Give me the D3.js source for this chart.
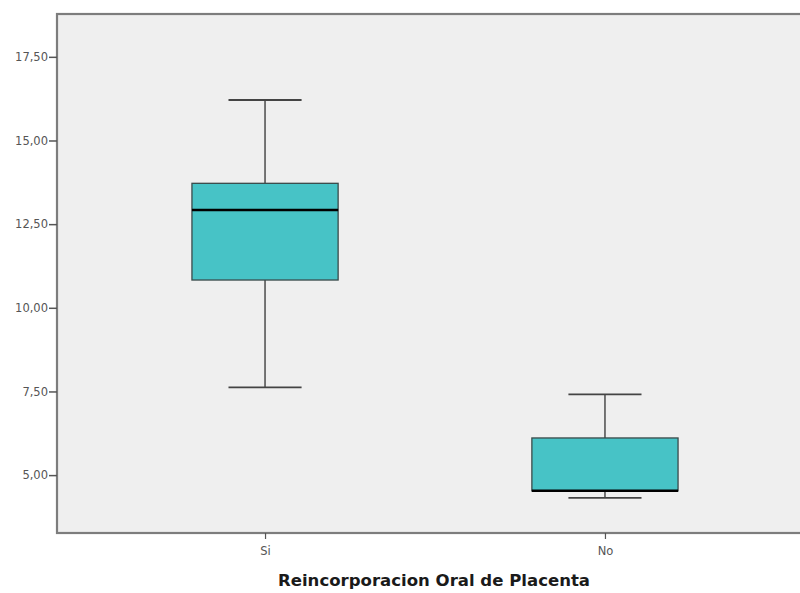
<!DOCTYPE html>
<html><head><meta charset="utf-8">
<script src="https://cdn.jsdelivr.net/npm/d3@7"></script>
<style>body{margin:0;background:#fff}</style>
</head><body>
<svg id="c" width="800" height="593"></svg>
<script>
const categories = ["Si", "No"];
const whiskerLow = [7.62, 4.32];
const q1 = [10.83, 4.53];
const median = [12.92, 4.53];
const q3 = [13.72, 6.11];
const whiskerHigh = [16.21, 7.41];
const yTicks = [5, 7.5, 10, 12.5, 15, 17.5];
const xTitle = "Reincorporacion Oral de Placenta";

const svg = d3.select("#c");
const L = 57, R = 813, T = 14, B = 533;
const y = d3.scaleLinear().domain([3.27, 18.78]).range([B, T]);
const x = d3.scalePoint().domain(categories).range([L, R]).padding(0.612);
const step = x.step();
const boxW = step * 0.43, capW = boxW * 0.5;
const FONT = "'DejaVu Sans', Verdana, sans-serif";

svg.append("rect").attr("x", L).attr("y", T).attr("width", R - L).attr("height", B - T)
  .attr("fill", "#efefef").attr("stroke", "#7d7d7d").attr("stroke-width", 2.2);

const fmt = v => d3.format(".2f")(v).replace(".", ",");
const ya = svg.append("g").attr("transform", `translate(${L},0)`)
  .call(d3.axisLeft(y).tickValues(yTicks).tickFormat(fmt).tickSize(8).tickPadding(1));
ya.select(".domain").remove();
ya.selectAll(".tick line").attr("stroke", "#555").attr("stroke-width", 1.5);
ya.selectAll(".tick text").attr("fill", "#555").style("font-family", FONT).style("font-size", "11.5px");

const xa = svg.append("g").attr("transform", `translate(0,${B})`)
  .call(d3.axisBottom(x).tickSize(6).tickPadding(8));
xa.select(".domain").remove();
xa.selectAll(".tick line").attr("stroke", "#555").attr("stroke-width", 1.2);
xa.selectAll(".tick text").attr("fill", "#555").style("font-family", FONT).style("font-size", "11.5px");

svg.append("text").attr("x", 434).attr("y", 586).attr("text-anchor", "middle")
  .style("font-family", FONT).style("font-size", "15px").style("font-weight", "bold")
  .attr("textLength", 312).attr("lengthAdjust", "spacingAndGlyphs")
  .attr("fill", "#1a1a1a").text(xTitle);

const g = svg.append("g");
categories.forEach((c, i) => {
  const cx = x(c);
  g.append("line").attr("x1", cx).attr("x2", cx).attr("y1", y(whiskerHigh[i])).attr("y2", y(q3[i]))
    .attr("stroke", "#555").attr("stroke-width", 1.6);
  g.append("line").attr("x1", cx).attr("x2", cx).attr("y1", y(q1[i])).attr("y2", y(whiskerLow[i]))
    .attr("stroke", "#555").attr("stroke-width", 1.6);
  g.append("line").attr("x1", cx - capW / 2).attr("x2", cx + capW / 2).attr("y1", y(whiskerHigh[i])).attr("y2", y(whiskerHigh[i]))
    .attr("stroke", "#444").attr("stroke-width", 1.8);
  g.append("line").attr("x1", cx - capW / 2).attr("x2", cx + capW / 2).attr("y1", y(whiskerLow[i])).attr("y2", y(whiskerLow[i]))
    .attr("stroke", "#444").attr("stroke-width", 1.8);
  g.append("rect").attr("x", cx - boxW / 2).attr("y", y(q3[i])).attr("width", boxW).attr("height", y(q1[i]) - y(q3[i]))
    .attr("fill", "#47c3c6").attr("stroke", "#3a4a4a").attr("stroke-width", 1.3);
  g.append("line").attr("x1", cx - boxW / 2).attr("x2", cx + boxW / 2).attr("y1", y(median[i])).attr("y2", y(median[i]))
    .attr("stroke", "#000").attr("stroke-width", 2.5);
});
</script>
</body></html>
